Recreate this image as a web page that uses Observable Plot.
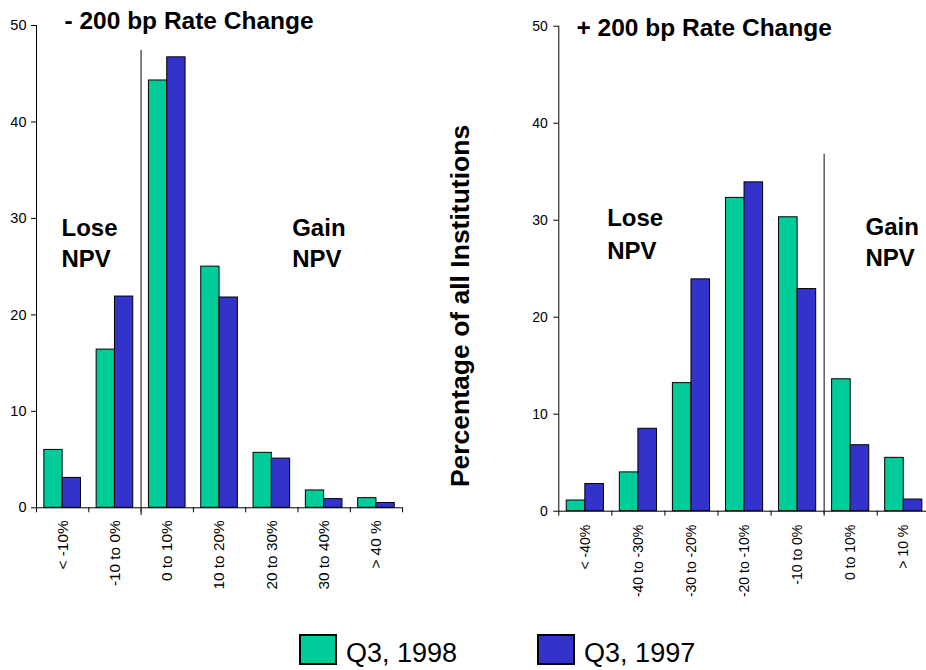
<!DOCTYPE html>
<html>
<head>
<meta charset="utf-8">
<script src="https://cdn.jsdelivr.net/npm/d3@7"></script>
<script src="https://cdn.jsdelivr.net/npm/@observablehq/plot@0.6"></script>
<style>
  html, body { margin: 0; padding: 0; background: #fff; }
  #wrap { position: relative; width: 926px; height: 670px; overflow: hidden; font-family: "Liberation Sans", Arial, sans-serif; }
  #left { position: absolute; left: 0; top: 0; }
  #right { position: absolute; left: 440px; top: 0; }
  #legend { position: absolute; left: 300px; top: 635px; }
  #legend .npv-swatches { font-family: "Liberation Sans", Arial, sans-serif; font-size: 27px; color: #000; min-height: 0; margin: 0; display: flex; align-items: center; }
  #legend .npv-swatch { margin-right: 81px; display: inline-flex; align-items: center; }
  #legend .npv-swatch > svg { margin-right: 10px; margin-bottom: 8px; }
  #legend .npv-swatch rect { stroke: #000; stroke-width: 2px; }
</style>
</head>
<body>
<div id="wrap">
  <div id="left"></div>
  <div id="right"></div>
  <div id="legend"></div>
</div>
<script>
// Distribution of NPV change, share of all institutions (%)
const seriesNames = ["Q3, 1998", "Q3, 1997"];
const seriesColors = ["#00CC99", "#3333CC"];
const yTicks = [0, 10, 20, 30, 40, 50];

// -200 bp scenario
const downCategories = ["< -10%", "-10 to 0%", "0 to 10%", "10 to 20%", "20 to 30%", "30 to 40%", "> 40 %"];
const downQ3_1998 = [6.0, 16.4, 44.3, 25.0, 5.7, 1.8, 1.0];
const downQ3_1997 = [3.1, 21.9, 46.7, 21.8, 5.1, 0.9, 0.5];

// +200 bp scenario
const upCategories = ["< -40%", "-40 to -30%", "-30 to -20%", "-20 to -10%", "-10 to 0%", "0 to 10%", "> 10 %"];
const upQ3_1998 = [1.1, 4.0, 13.2, 32.3, 30.3, 13.6, 5.5];
const upQ3_1997 = [2.8, 8.5, 23.9, 33.9, 22.9, 6.8, 1.2];

const FONT = "Liberation Sans, Arial, sans-serif";
const HALF = 0.35; // width of one bar, in category units

function rows(categories, a, b) {
  const out = [];
  categories.forEach((c, i) => {
    out.push({i, category: c, series: seriesNames[0], value: a[i]});
    out.push({i, category: c, series: seriesNames[1], value: b[i]});
  });
  return out;
}

function histogram(o) {
  const data = rows(o.categories, o.a, o.b);
  const n = o.categories.length;
  const bounds = d3.range(-0.5, n, 1);
  const centers = d3.range(n);
  return Plot.plot({
    width: o.width,
    height: o.height,
    marginLeft: o.x0,
    marginTop: o.yTop,
    marginBottom: o.height - o.y0,
    marginRight: o.width - o.x0 - o.bandWidth * n,
    style: {fontFamily: FONT, fontSize: "14px", color: "#000", background: "transparent", overflow: "visible"},
    x: {type: "linear", domain: [-0.5, n - 0.5], range: [o.x0, o.x0 + o.bandWidth * n], axis: null},
    y: {domain: [0, 50], range: [o.y0, o.yTop], axis: null},
    color: {domain: seriesNames, range: seriesColors},
    marks: [
      // bars: first series left of the category center, second series right
      Plot.rectY(data, {
        x1: d => d.series === seriesNames[0] ? d.i - HALF : d.i,
        x2: d => d.series === seriesNames[0] ? d.i : d.i + HALF,
        y: "value",
        fill: "series",
        stroke: "#000",
        strokeWidth: 1
      }),
      // axis lines
      Plot.ruleX([-0.5], {y1: 0, y2: 50, stroke: "#000"}),
      Plot.ruleY([0], {x1: -0.5, x2: n - 0.5, stroke: "#000"}),
      Plot.axisY(yTicks, {tickSize: 5, tickPadding: o.yPad, fontSize: o.yFont, label: null, stroke: "#000"}),
      // tick marks between categories
      Plot.axisX(bounds, {tickSize: 5, tickFormat: () => "", label: null, stroke: "#000"}),
      // rotated category labels
      Plot.axisX(centers, {
        tickSize: 0, tickPadding: o.xPad, tickRotate: -90,
        tickFormat: i => o.categories[i], fontSize: o.xFont, label: null
      }),
      // lose / gain divider
      Plot.ruleX([o.divider], {y1: o.dividerBottom, y2: o.dividerTop, stroke: "#333", strokeWidth: 1.2}),
      Plot.text([o.title], {
        text: d => d, frameAnchor: "top-left", dx: o.titleDx, dy: o.titleDy,
        textAnchor: "start", lineAnchor: "bottom", fontSize: 24.5, fontWeight: "bold", fill: "#000"
      }),
      Plot.text(["Lose\nNPV"], {
        text: d => d, frameAnchor: "top-left", dx: o.loseDx, dy: o.loseDy,
        textAnchor: "start", lineAnchor: "bottom", lineHeight: o.loseLH, fontSize: 24, fontWeight: "bold", fill: "#000"
      }),
      Plot.text(["Gain\nNPV"], {
        text: d => d, frameAnchor: "top-left", dx: o.gainDx, dy: o.gainDy,
        textAnchor: "start", lineAnchor: "bottom", lineHeight: o.gainLH, fontSize: 24, fontWeight: "bold", fill: "#000"
      }),
      ...(o.extra || [])
    ]
  });
}

const left = histogram({
  categories: downCategories, a: downQ3_1998, b: downQ3_1997,
  width: 430, height: 600, x0: 36, bandWidth: 52.3, y0: 507.3, yTop: 25,
  yPad: 5, yFont: 14.5, xPad: 12.7, xFont: 15.3,
  divider: 1.5, dividerBottom: -0.8, dividerTop: 47.4,
  title: "- 200 bp Rate Change", titleDx: 28, titleDy: 3,
  loseDx: 25, loseDy: 241.7, loseLH: 1.32,
  gainDx: 255.7, gainDy: 241.7, gainLH: 1.32
});

const right = histogram({
  categories: upCategories, a: upQ3_1998, b: upQ3_1997,
  width: 486, height: 600, x0: 118.3, bandWidth: 53.07, y0: 510.7, yTop: 25.7,
  yPad: 6, yFont: 14, xPad: 13.5, xFont: 14,
  divider: 4.5, dividerBottom: -0.35, dividerTop: 36.8,
  title: "+ 200 bp Rate Change", titleDx: 17.7, titleDy: 9.8,
  loseDx: 48.4, loseDy: 232.6, loseLH: 1.36,
  gainDx: 306.7, gainDy: 240, gainLH: 1.31,
  extra: [
    Plot.text(["Percentage of all Institutions"], {
      text: d => d, frameAnchor: "left", dx: -98.6, dy: 37.3, rotate: -90,
      textAnchor: "middle", lineAnchor: "middle", fontSize: 26.5, fontWeight: "bold", fill: "#000"
    })
  ]
});

document.getElementById("left").appendChild(left);
document.getElementById("right").appendChild(right);

document.getElementById("legend").appendChild(
  Plot.legend({
    color: {domain: seriesNames, range: seriesColors},
    legend: "swatches",
    className: "npv",
    swatchWidth: 36,
    swatchHeight: 29
  })
);
</script>
</body>
</html>
